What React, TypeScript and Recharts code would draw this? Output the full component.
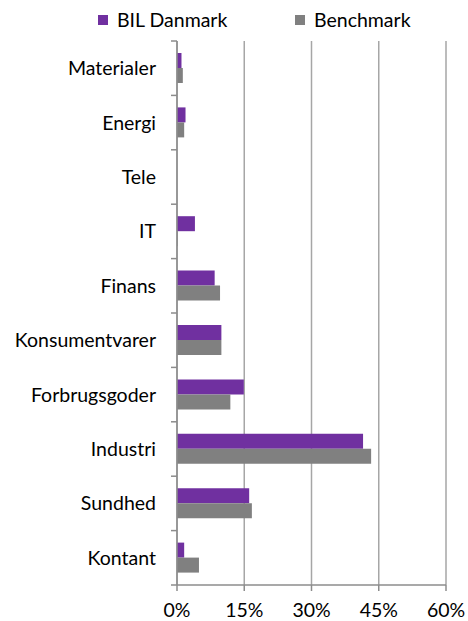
import React from 'react';
import { BarChart, Bar, XAxis, YAxis, CartesianGrid, Legend } from 'recharts';

const categories = ['Materialer', 'Energi', 'Tele', 'IT', 'Finans', 'Konsumentvarer', 'Forbrugsgoder', 'Industri', 'Sundhed', 'Kontant'];
const bilDanmark = [1.0, 1.9, 0, 4.0, 8.4, 9.9, 14.9, 41.5, 16.1, 1.6];
const benchmark = [1.3, 1.6, 0, 0.15, 9.6, 9.9, 11.9, 43.3, 16.7, 4.9];
const xTicks = [0, 15, 30, 45, 60];
const seriesNames = ['BIL Danmark', 'Benchmark'];
const seriesColors = ['#7030A0', '#808080'];

const data = categories.map((name, i) => ({ name, bil: bilDanmark[i], bench: benchmark[i] }));

const W = 468;
const H = 621;
const MARGIN = { top: 41, right: 22, bottom: 0, left: 0 };
const Y_AXIS_W = 177;
const X_AXIS_H = 36;
const AXIS_X = MARGIN.left + Y_AXIS_W;
const PLOT_TOP = MARGIN.top;
const PLOT_BOTTOM = H - MARGIN.bottom - X_AXIS_H;
const FONT = 'Lato, "Open Sans", sans-serif';
const FS = 19.5;
const AXIS_COLOR = '#8c8c8c';

const YTick = (props: any) => {
  const { y, payload, index } = props;
  const band = (PLOT_BOTTOM - PLOT_TOP) / categories.length;
  return (
    <g>
      <text x={AXIS_X - 21} y={y} dy="0.36em" textAnchor="end" fontFamily={FONT} fontSize={FS} fill="#000">
        {payload.value}
      </text>
      <line x1={AXIS_X - 6} x2={AXIS_X} y1={y - band / 2} y2={y - band / 2} stroke={AXIS_COLOR} strokeWidth={1.5} />
      {index === categories.length - 1 ? (
        <line x1={AXIS_X - 6} x2={AXIS_X} y1={y + band / 2} y2={y + band / 2} stroke={AXIS_COLOR} strokeWidth={1.5} />
      ) : null}
    </g>
  );
};

const XTick = (props: any) => {
  const { x, payload } = props;
  return (
    <text x={x} y={PLOT_BOTTOM + 32} textAnchor="middle" fontFamily={FONT} fontSize={FS} fill="#000">
      {`${payload.value}%`}
    </text>
  );
};

const LegendContent = () => {
  const starts = [98, 295];
  return (
    <div style={{ position: 'relative', width: W, height: 36 }}>
      {seriesNames.map((n, i) => (
        <div
          key={n}
          style={{
            position: 'absolute',
            left: starts[i],
            top: 8,
            display: 'flex',
            alignItems: 'center',
            fontFamily: FONT,
            fontSize: FS,
            color: '#000',
            whiteSpace: 'nowrap',
          }}
        >
          <span style={{ display: 'inline-block', width: 10, height: 10, background: seriesColors[i], marginRight: 9 }} />
          <span>{n}</span>
        </div>
      ))}
    </div>
  );
};

export default function App() {
  return (
    <div style={{ position: 'absolute', left: 0, top: 0, width: W, height: H, background: '#fff' }}>
      <BarChart width={W} height={H} data={data} layout="vertical" margin={MARGIN} barSize={15} barGap={0}>
        <CartesianGrid horizontal={false} vertical={true} stroke="#a6a6a6" strokeWidth={1.5} />
        <XAxis
          type="number"
          domain={[0, 60]}
          ticks={xTicks}
          height={X_AXIS_H}
          tickSize={6}
          axisLine={{ stroke: AXIS_COLOR, strokeWidth: 1.5 }}
          tickLine={{ stroke: AXIS_COLOR, strokeWidth: 1.5 }}
          tick={<XTick />}
          interval={0}
        />
        <YAxis
          type="category"
          dataKey="name"
          width={Y_AXIS_W}
          tickLine={false}
          axisLine={{ stroke: AXIS_COLOR, strokeWidth: 1.5 }}
          tick={<YTick />}
          interval={0}
        />
        <Legend
          verticalAlign="middle"
          align="center"
          layout="horizontal"
          wrapperStyle={{ top: 0, left: 0, width: W }}
          content={<LegendContent />}
        />
        <Bar dataKey="bil" name={seriesNames[0]} fill={seriesColors[0]} isAnimationActive={false} />
        <Bar dataKey="bench" name={seriesNames[1]} fill={seriesColors[1]} isAnimationActive={false} />
      </BarChart>
    </div>
  );
}
